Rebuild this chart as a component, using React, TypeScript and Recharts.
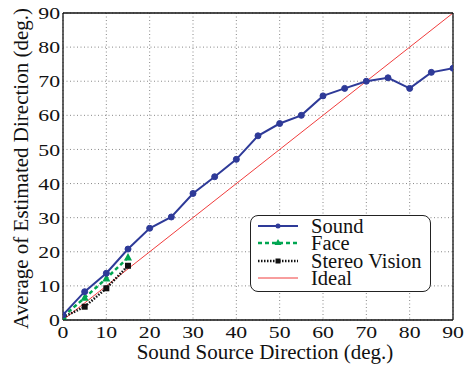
import React from 'react';
import { LineChart, Line, XAxis, YAxis, CartesianGrid, Legend } from 'recharts';

const xTicks = [0, 10, 20, 30, 40, 50, 60, 70, 80, 90];
const yTicks = [0, 10, 20, 30, 40, 50, 60, 70, 80, 90];

const soundX = [0, 5, 10, 15, 20, 25, 30, 35, 40, 45, 50, 55, 60, 65, 70, 75, 80, 85, 90];
const soundY = [1.5, 8.3, 13.7, 20.8, 26.9, 30.2, 37.1, 42.0, 47.1, 54.0, 57.6, 60.0, 65.7, 67.9, 70.0, 71.0, 67.9, 72.6, 73.8];

const faceX = [0, 5, 10, 15];
const faceY = [1.0, 6.5, 12.2, 18.3];

const stereoX = [0, 5, 10, 15];
const stereoY = [0.8, 3.9, 9.3, 15.9];

const idealX = [0, 90];
const idealY = [0, 90];

const SERIF = '"Liberation Serif", "Times New Roman", serif';
const BLUE = '#2e3a98';
const GREEN = '#00a651';
const BLACK = '#111111';
const RED = '#f03c3c';

const toRows = (xs: number[], ys: number[]) => xs.map((x, i) => ({ x, y: ys[i] }));
const soundData = toRows(soundX, soundY);
const faceData = toRows(faceX, faceY);
const stereoData = toRows(stereoX, stereoY);
const idealData = toRows(idealX, idealY);

const CircleDot = (p: any) => (
  <circle key={`c${p.index}`} cx={p.cx} cy={p.cy} r={3} fill={BLUE} stroke={BLUE} />
);
const TriDot = (p: any) => (
  <polygon
    key={`t${p.index}`}
    points={`${p.cx},${p.cy - 4.5} ${p.cx - 4},${p.cy + 3} ${p.cx + 4},${p.cy + 3}`}
    fill={GREEN}
  />
);
const SqDot = (p: any) => (
  <rect key={`s${p.index}`} x={p.cx - 3} y={p.cy - 3} width={6} height={6} fill={BLACK} />
);

const series = [
  { name: 'Sound', color: BLUE, dash: undefined as string | undefined, width: 2, marker: 'circle' },
  { name: 'Face', color: GREEN, dash: '4 3', width: 2.5, marker: 'tri' },
  { name: 'Stereo Vision', color: BLACK, dash: '1.5 1.5', width: 2.5, marker: 'sq' },
  { name: 'Ideal', color: RED, dash: undefined as string | undefined, width: 1, marker: 'none' },
];

const LegendBox = () => (
  <div
    style={{
      position: 'relative',
      width: 181,
      height: 77,
      boxSizing: 'border-box',
      border: '1.3px solid #222',
      borderRadius: 8,
      background: '#fff',
      fontFamily: SERIF,
      fontSize: 20.5,
      color: '#111',
    }}
  >
    {series.map((s, i) => {
      const cy = 10 + i * 17.3;
      return (
        <div
          key={s.name}
          style={{ position: 'absolute', left: 0, top: cy - 9, height: 18, width: 181 }}
        >
          <svg width={40} height={18} style={{ position: 'absolute', left: 7, top: 0 }}>
            <line x1={0} y1={9} x2={40} y2={9} stroke={s.color} strokeWidth={s.width} strokeDasharray={s.dash} />
            {s.marker === 'circle' && <circle cx={20} cy={9} r={2.5} fill={s.color} />}
            {s.marker === 'tri' && <polygon points="20,5 16.5,11 23.5,11" fill={s.color} />}
            {s.marker === 'sq' && <rect x={17.5} y={6.5} width={5} height={5} fill={s.color} />}
          </svg>
          <span style={{ position: 'absolute', left: 60, top: 0, lineHeight: '18px', whiteSpace: 'nowrap' }}>
            {s.name}
          </span>
        </div>
      );
    })}
  </div>
);

const XLabel = (props: any) => {
  const vb = props.viewBox || { x: 63, y: 320, width: 390, height: 49 };
  return (
    <text
      x={vb.x + vb.width / 2 + 7}
      y={vb.y + 39}
      textAnchor="middle"
      fontFamily={SERIF}
      fontSize={21}
      fill="#111"
    >
      Sound Source Direction (deg.)
    </text>
  );
};

const YLabel = (props: any) => {
  const vb = props.viewBox || { x: 0, y: 13, width: 63, height: 307 };
  const cx = vb.x + 21;
  const cy = vb.y + vb.height / 2 + 2;
  return (
    <text
      x={cx}
      y={cy}
      transform={`rotate(-90 ${cx} ${cy})`}
      textAnchor="middle"
      dominantBaseline="central"
      fontFamily={SERIF}
      fontSize={21}
      fill="#111"
    >
      Average of Estimated Direction (deg.)
    </text>
  );
};

const XTick = (p: any) => (
  <g transform={`translate(${p.x},${p.y})`}>
    <text transform="scale(1.28,1)" textAnchor="middle" dy="0.72em" fontFamily={SERIF} fontSize={17} fill="#111">
      {p.payload.value}
    </text>
  </g>
);

const YTick = (p: any) => (
  <g transform={`translate(${p.x},${p.y})`}>
    <text transform="scale(1.28,1)" textAnchor="end" dy="0.36em" fontFamily={SERIF} fontSize={17} fill="#111">
      {p.payload.value}
    </text>
  </g>
);

const frame = { stroke: '#111', strokeWidth: 1.3 };

export default function App() {
  return (
    <div style={{ position: 'absolute', left: 0, top: 0, background: '#fff' }}>
      <LineChart width={473} height={369} margin={{ top: 13, right: 20, bottom: 0, left: 0 }}>
        <CartesianGrid stroke="#888" strokeDasharray="1 2.5" strokeWidth={1} />
        <XAxis
          xAxisId={0}
          dataKey="x"
          type="number"
          domain={[0, 90]}
          ticks={xTicks}
          allowDataOverflow
          height={49}
          tickLine={false}
          tickSize={0}
          tickMargin={6}
          axisLine={frame}
          tick={<XTick />}
          label={<XLabel />}
        />
        <XAxis
          xAxisId="bm"
          orientation="bottom"
          mirror
          type="number"
          domain={[0, 90]}
          ticks={xTicks}
          tickSize={5}
          tickLine={{ stroke: '#111', strokeWidth: 1 }}
          axisLine={false}
          tickFormatter={() => ''}
        />
        <XAxis
          xAxisId="top"
          orientation="top"
          mirror
          type="number"
          domain={[0, 90]}
          ticks={xTicks}
          tickSize={5}
          tickLine={{ stroke: '#111', strokeWidth: 1 }}
          axisLine={frame}
          tickFormatter={() => ''}
        />
        <YAxis
          yAxisId={0}
          type="number"
          domain={[0, 90]}
          ticks={yTicks}
          allowDataOverflow
          width={63}
          tickLine={false}
          tickSize={0}
          tickMargin={3}
          axisLine={frame}
          tick={<YTick />}
          label={<YLabel />}
        />
        <YAxis
          yAxisId="lm"
          orientation="left"
          mirror
          type="number"
          domain={[0, 90]}
          ticks={yTicks}
          tickSize={5}
          tickLine={{ stroke: '#111', strokeWidth: 1 }}
          axisLine={false}
          tickFormatter={() => ''}
        />
        <YAxis
          yAxisId="r"
          orientation="right"
          mirror
          type="number"
          domain={[0, 90]}
          ticks={yTicks}
          tickSize={5}
          tickLine={{ stroke: '#111', strokeWidth: 1 }}
          axisLine={frame}
          tickFormatter={() => ''}
        />
        <Line
          data={idealData}
          dataKey="y"
          name="Ideal"
          stroke={RED}
          strokeWidth={1}
          dot={false}
          activeDot={false}
          isAnimationActive={false}
        />
        <Line
          data={stereoData}
          dataKey="y"
          name="Stereo Vision"
          stroke={BLACK}
          strokeWidth={2.5}
          strokeDasharray="1.5 1.5"
          dot={SqDot}
          activeDot={false}
          isAnimationActive={false}
        />
        <Line
          data={faceData}
          dataKey="y"
          name="Face"
          stroke={GREEN}
          strokeWidth={2.5}
          strokeDasharray="4 3"
          dot={TriDot}
          activeDot={false}
          isAnimationActive={false}
        />
        <Line
          data={soundData}
          dataKey="y"
          name="Sound"
          stroke={BLUE}
          strokeWidth={2}
          dot={CircleDot}
          activeDot={false}
          isAnimationActive={false}
        />
        <Legend
          layout="vertical"
          align="center"
          verticalAlign="middle"
          wrapperStyle={{ left: 250, top: 215, width: 181, height: 77 }}
          content={<LegendBox />}
        />
      </LineChart>
    </div>
  );
}
